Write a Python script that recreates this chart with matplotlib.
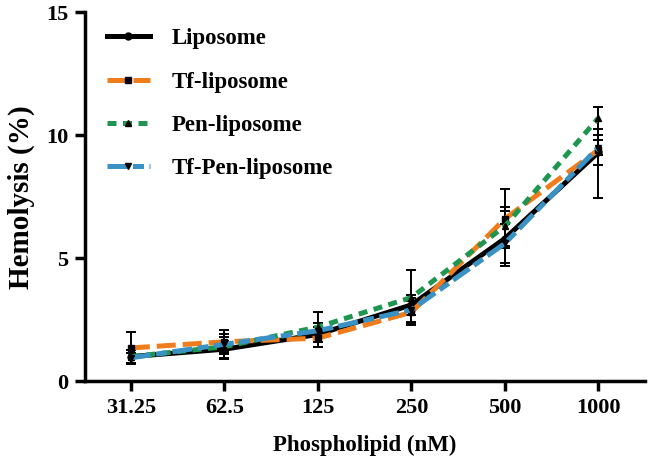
import numpy as np
import matplotlib.pyplot as plt

plt.rcParams['font.family'] = ['Liberation Serif', 'DejaVu Serif']
plt.rcParams['font.weight'] = 'bold'

conc = ['31.25', '62.5', '125', '250', '500', '1000']
lipo = [1.0, 1.3, 1.9, 3.1, 5.8, 9.3]
lipo_sd = [0.25, 0.35, 0.3, 0.4, 1.1, 1.85]
tf = [1.35, 1.6, 1.75, 2.8, 6.6, 9.4]
tf_sd = [0.65, 0.5, 0.35, 0.45, 1.2, 0.6]
pen = [1.0, 1.4, 2.2, 3.4, 6.3, 10.7]
pen_sd = [0.25, 0.5, 0.6, 1.1, 0.8, 0.45]
tfpen = [0.95, 1.5, 2.05, 2.9, 5.6, 9.5]
tfpen_sd = [0.2, 0.3, 0.3, 0.5, 0.8, 0.3]

x = np.arange(len(conc))

fig = plt.figure(figsize=(6.49, 4.70), dpi=100)
ax = fig.add_axes([0.131, 0.189, 0.863, 0.785])

series = [
    ('Liposome', lipo, lipo_sd, 'black', 'o', (None, None), 3),
    ('Tf-liposome', tf, tf_sd, '#f07d1c', 's', (3.8, 1.4), 4),
    ('Pen-liposome', pen, pen_sd, '#1e9650', '^', (1.8, 1.3), 5),
    ('Tf-Pen-liposome', tfpen, tfpen_sd, '#3a92c4', 'v', (4.0, 1.1, 2.2, 1.1), 6),
]
for name, y, sd, c, m, dash, z in series:
    ax.errorbar(x, y, yerr=sd, fmt='none', ecolor='black', elinewidth=1.4,
                capsize=3.5, capthick=1.4, zorder=2)
    ln, = ax.plot(x, y, color=c, lw=3.6, marker=m, markersize=5,
                  markerfacecolor='black', markeredgecolor='black',
                  label=name, zorder=z)
    if dash[0] is not None:
        ln.set_dashes(dash)

ax.set_xlim(-0.49, 5.5)
ax.set_ylim(0, 15)
ax.set_xticks(x)
ax.set_xticklabels(conc)
ax.set_yticks([0, 5, 10, 15])
for s in ['top', 'right']:
    ax.spines[s].set_visible(False)
for s in ['left', 'bottom']:
    ax.spines[s].set_linewidth(2.5)
ax.tick_params(width=2.5, length=7, labelsize=16, pad=5)
for lab in ax.get_xticklabels() + ax.get_yticklabels():
    lab.set_fontweight('bold')

ax.set_xlabel('Phospholipid (nM)', fontsize=16.5, fontweight='bold', labelpad=12)
ax.set_ylabel('Hemolysis (%)', fontsize=21, fontweight='bold', labelpad=8)

leg = ax.legend(loc='upper left', bbox_to_anchor=(0.01, 1.0), frameon=False,
                fontsize=16.5, handlelength=1.9, labelspacing=0.97,
                borderaxespad=0.3, handletextpad=0.95)
for t in leg.get_texts():
    t.set_fontweight('bold')

fig.savefig('out.png', dpi=100)
